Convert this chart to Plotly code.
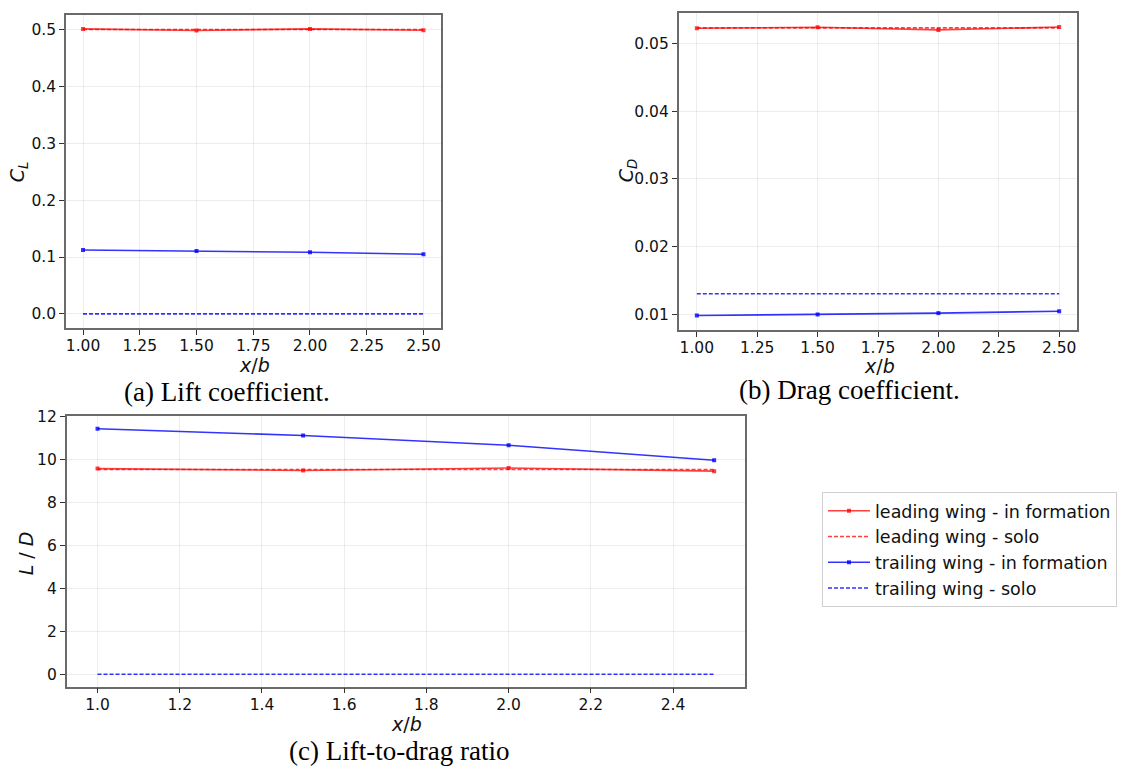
import plotly.graph_objects as go

# x positions (x/b)
x_b = [1.0, 1.5, 2.0, 2.5]

# (a) Lift coefficient
cl_lead_form = [0.5014, 0.4986, 0.5014, 0.4990]
cl_lead_solo = [0.5002, 0.5002, 0.5002, 0.5002]
cl_trail_form = [0.1125, 0.1108, 0.1084, 0.1050]
cl_trail_solo = [0.0, 0.0, 0.0, 0.0]

# (b) Drag coefficient
cd_lead_form = [0.05224, 0.05240, 0.05200, 0.05242]
cd_lead_solo = [0.05230, 0.05230, 0.05230, 0.05230]
cd_trail_form = [0.00985, 0.01000, 0.01020, 0.01048]
cd_trail_solo = [0.01306, 0.01306, 0.01306, 0.01306]

# (c) Lift-to-drag ratio
ld_lead_form = [9.59, 9.50, 9.62, 9.47]
ld_lead_solo = [9.55, 9.55, 9.55, 9.55]
ld_trail_form = [11.45, 11.13, 10.68, 9.98]
ld_trail_solo = [0.0, 0.0, 0.0, 0.0]

series_names = ["leading wing - in formation", "leading wing - solo",
                "trailing wing - in formation", "trailing wing - solo"]

RED = "rgba(255,0,0,0.75)"
BLUE = "rgba(0,0,255,0.8)"
styles = [
    dict(color=RED, dash="solid", marker=True),
    dict(color=RED, dash="4px,2px", marker=False),
    dict(color=BLUE, dash="solid", marker=True),
    dict(color=BLUE, dash="4px,2px", marker=False),
]

panels = [
    ("x", "y", [cl_lead_form, cl_lead_solo, cl_trail_form, cl_trail_solo], False),
    ("x2", "y2", [cd_lead_form, cd_lead_solo, cd_trail_form, cd_trail_solo], False),
    ("x3", "y3", [ld_lead_form, ld_lead_solo, ld_trail_form, ld_trail_solo], True),
]

fig = go.Figure()
for xa, ya, data, show in panels:
    for name, vals, st in zip(series_names, data, styles):
        fig.add_trace(go.Scatter(
            x=x_b, y=vals, xaxis=xa, yaxis=ya, name=name,
            legendgroup=name, showlegend=show,
            mode="lines+markers" if st["marker"] else "lines",
            line=dict(color=st["color"], width=1.6, dash=st["dash"]),
            marker=dict(size=4, color=st["color"], symbol="square"),
        ))


def rng(series_list):
    lo = min(min(s) for s in series_list)
    hi = max(max(s) for s in series_list)
    m = (hi - lo) * 0.05
    return [lo - m, hi + m]


W, H = 1122, 768
TICKFONT = dict(family="DejaVu Sans", size=15.5, color="#111")
TITLEFONT = dict(family="DejaVu Sans", size=19, color="#111")
axis_common = dict(
    showline=True, mirror=True, linecolor="#6a6a6a", linewidth=1.5,
    ticks="outside", ticklen=5, tickcolor="#333",
    showgrid=True, gridcolor="rgba(0,0,0,0.07)", gridwidth=1,
    zeroline=False, tickfont=TICKFONT,
)

xr = [0.925, 2.575]

fig.update_layout(
    width=W, height=H,
    margin=dict(l=0, r=0, t=0, b=0),
    plot_bgcolor="white", paper_bgcolor="white",
    # panel (a)
    xaxis=dict(axis_common, domain=[66 / W, 440.5 / W], anchor="y", range=xr,
               tickvals=[1.0, 1.25, 1.5, 1.75, 2.0, 2.25, 2.5], tickformat=".2f",
               ticklabelstandoff=-2),
    yaxis=dict(axis_common, domain=[1 - 323.5 / H, 1 - 6.7 / H], anchor="x",
               range=rng([cl_lead_form, cl_lead_solo, cl_trail_form, cl_trail_solo]),
               tickvals=[0, 0.1, 0.2, 0.3, 0.4, 0.5], tickformat=".1f"),
    # panel (b)
    xaxis2=dict(axis_common, domain=[678.7 / W, 1077.3 / W], anchor="y2", range=xr,
                tickvals=[1.0, 1.25, 1.5, 1.75, 2.0, 2.25, 2.5], tickformat=".2f",
                ticklabelstandoff=-2),
    yaxis2=dict(axis_common, domain=[1 - 325.3 / H, 1 - 4.7 / H], anchor="x2",
                range=rng([cd_lead_form, cd_lead_solo, cd_trail_form, cd_trail_solo]),
                tickvals=[0.01, 0.02, 0.03, 0.04, 0.05], tickformat=".2f"),
    # panel (c)
    xaxis3=dict(axis_common, domain=[66.7 / W, 745 / W], anchor="y3", range=xr,
                tickvals=[1.0, 1.2, 1.4, 1.6, 1.8, 2.0, 2.2, 2.4], tickformat=".1f",
                ticklabelstandoff=-2),
    yaxis3=dict(axis_common, domain=[1 - 685.7 / H, 1 - 412.7 / H], anchor="x3",
                range=rng([ld_lead_form, ld_lead_solo, ld_trail_form, ld_trail_solo]),
                tickvals=[0, 2, 4, 6, 8, 10, 12]),
    legend=dict(
        x=822 / W, y=1 - 489 / H, xanchor="left", yanchor="top",
        bgcolor="white", bordercolor="#d0d0d0", borderwidth=1,
        font=dict(family="DejaVu Sans", size=17.5, color="#111"),
        tracegroupgap=0, itemwidth=42,
    ),
)

# axis titles (text, centre x px, centre y px, angle)
axis_titles = [
    ("<i>x</i>/<i>b</i>", 254, 361, 0),
    ("<i>C<sub>L</sub></i>", 18, 166, -90),
    ("<i>x</i>/<i>b</i>", 879, 362, 0),
    ("<i>C<sub>D</sub></i>", 627, 164, -90),
    ("<i>x</i>/<i>b</i>", 406, 724, 0),
    ("<i>L</i> / <i>D</i>", 26, 551, -90),
]
for text, cx, cy, ang in axis_titles:
    fig.add_annotation(
        text=text, x=cx / W, y=1 - cy / H, xref="paper", yref="paper",
        xanchor="center", yanchor="middle", showarrow=False, textangle=ang,
        font=TITLEFONT,
    )

captions = [
    ("(a) Lift coefficient.", 226.5, 388, 27),
    ("(b) Drag coefficient.", 849, 386, 27),
    ("(c) Lift-to-drag ratio", 399, 751, 27),
]
for text, cx, cy, size in captions:
    fig.add_annotation(
        text=text, x=cx / W, y=1 - cy / H, xref="paper", yref="paper",
        xanchor="center", yanchor="middle", showarrow=False,
        font=dict(family="Liberation Serif", size=size, color="#000"),
    )

fig.write_html(
    "out.html",
    config={"displayModeBar": False},
    post_script=(
        "document.body.style.margin='0';document.body.style.padding='0';"
        "var d=document.getElementById('{plot_id}');"
        "d.style.position='absolute';d.style.left='0px';d.style.top='0px';"
    ),
)
